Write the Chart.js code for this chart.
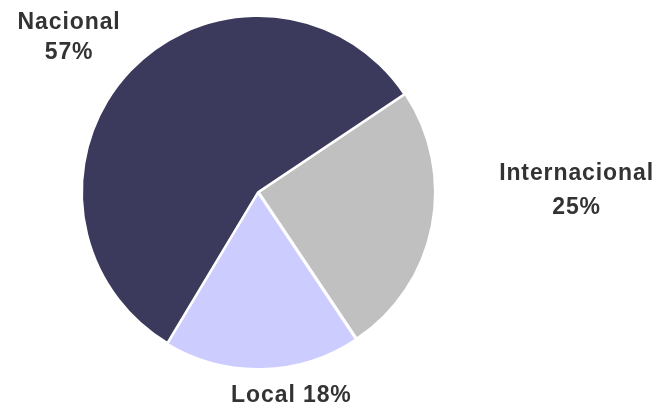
<!DOCTYPE html>
<html>
<head>
<meta charset="utf-8">
<script src="https://cdn.jsdelivr.net/npm/chart.js@4.4.1/dist/chart.umd.min.js"></script>
<style>
  html, body { margin: 0; padding: 0; background: #ffffff; }
  #wrap { width: 661px; height: 408px; }
</style>
</head>
<body>
<div id="wrap"><canvas id="pieChart"></canvas></div>
<script>
// Datos del gráfico
var categorias = ['Nacional', 'Internacional', 'Local'];
var valores = [57, 25, 18];
var colores = ['#3b3a5c', '#c0c0c0', '#ccccff'];
var desplazamientos = [0, 4, 4];

// Posición de las etiquetas: distancia (en radios), giro respecto al ángulo medio y separación de líneas
var etiquetaDistancia = [1.385, 1.81, 1.175];
var etiquetaGiro = [-4.4, -11.5, -7.9];
var etiquetaInterlinea = [30, 34, 0];
var etiquetaEnLinea = [false, false, true];

// Plugin para dibujar las etiquetas fuera del pastel
var etiquetasPlugin = {
    id: 'etiquetas',
    afterDatasetsDraw: function(chart) {
        var ctx = chart.ctx;
        var meta = chart.getDatasetMeta(0);
        var total = valores.reduce(function(a, b) { return a + b; }, 0);
        ctx.save();
        ctx.font = 'bold 23px "Liberation Sans", Arial, sans-serif';
        ctx.fillStyle = '#333333';
        ctx.textAlign = 'center';
        ctx.textBaseline = 'middle';
        if ('letterSpacing' in ctx) ctx.letterSpacing = '0.9px';
        meta.data.forEach(function(arc, i) {
            var p = arc.getProps(['startAngle', 'endAngle', 'outerRadius'], true);
            var mid = (p.startAngle + p.endAngle) / 2 + etiquetaGiro[i] * Math.PI / 180;
            var r = p.outerRadius * etiquetaDistancia[i];
            var cx = (chart.chartArea.left + chart.chartArea.right) / 2;
            var cy = (chart.chartArea.top + chart.chartArea.bottom) / 2;
            var x = cx + Math.cos(mid) * r;
            var y = cy + Math.sin(mid) * r;
            var pct = Math.round(valores[i] / total * 100) + '%';
            if (etiquetaEnLinea[i]) {
                ctx.fillText(categorias[i] + ' ' + pct, x, y);
            } else {
                var h = etiquetaInterlinea[i] / 2;
                ctx.fillText(categorias[i], x, y - h);
                ctx.fillText(pct, x, y + h);
            }
        });
        ctx.restore();
    }
};

var ctx = document.getElementById('pieChart').getContext('2d');
var myPieChart = new Chart(ctx, {
    type: 'pie',
    data: {
        labels: categorias,
        datasets: [{
            data: valores,
            backgroundColor: colores,
            borderColor: '#ffffff',
            borderWidth: 2,
            offset: desplazamientos,
            hoverOffset: 0
        }]
    },
    options: {
        responsive: true,
        maintainAspectRatio: false,
        animation: false,
        rotation: -149,
        layout: {
            padding: { left: 79, top: 13, right: 224, bottom: 37 }
        },
        plugins: {
            legend: { display: false },
            tooltip: { enabled: false }
        }
    },
    plugins: [etiquetasPlugin]
});
</script>
</body>
</html>
